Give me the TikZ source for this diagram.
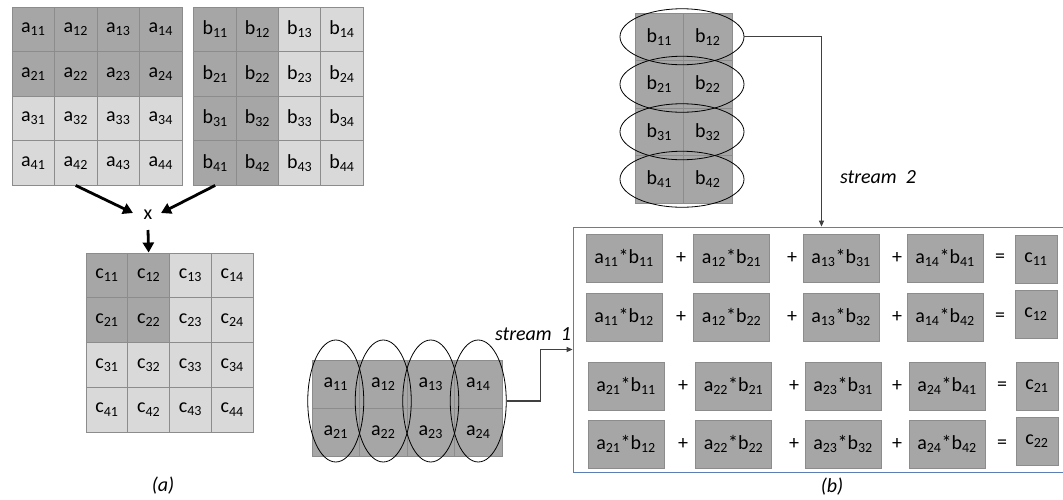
\documentclass[tikz,border=0pt]{standalone}
\usepackage{fontspec}
\setmainfont{Carlito}
\usetikzlibrary{arrows.meta,shapes.geometric}
\definecolor{dk}{HTML}{A6A6A6}
\definecolor{lt}{HTML}{D9D9D9}
\definecolor{cellb}{HTML}{8C8C8C}
\definecolor{boxb}{HTML}{5B7FB5}
\definecolor{arrc}{HTML}{404040}
\begin{document}
\begin{tikzpicture}[x=1pt,y=-1pt,font=\fontsize{20}{24}\selectfont,
  cellA/.style={draw=cellb,line width=0.9pt,minimum width=42.5pt,minimum height=44.5pt,inner sep=0pt},
  cellC/.style={draw=cellb,line width=0.9pt,minimum width=41.75pt,minimum height=44.75pt,inner sep=0pt},
  cellBB/.style={draw=cellb,line width=0.8pt,fill=dk,minimum width=48.5pt,minimum height=47.5pt,inner sep=0pt},
  cellAR/.style={draw=cellb,line width=0.8pt,fill=dk,minimum width=47.5pt,minimum height=48pt,inner sep=0pt},
  ell/.style={draw=black,line width=0.8pt,ellipse,inner sep=0pt},
  bigarr/.style={line width=2.8pt,-{Triangle[length=10pt,width=11pt]}},
  smarr/.style={draw=arrc,line width=1.1pt,-{Triangle[length=6pt,width=5pt]}},
  prod/.style={draw=cellb,line width=0.6pt,fill=dk,minimum width=76pt,minimum height=48pt,inner sep=0pt},
  cbox/.style={draw=cellb,line width=0.6pt,fill=dk,minimum width=42pt,minimum height=48pt,inner sep=0pt},
  lab/.style={font=\fontsize{20}{24}\selectfont\itshape}]
\useasboundingbox (0,0) rectangle (1063,499);
\fill[white] (0,0) rectangle (1063,499);
% ---------- (a) ----------
\foreach \r/\f in {1/dk,2/dk,3/lt,4/lt}
  \foreach \c in {1,...,4}
    \node[cellA,fill=\f] (A\r\c) at ({12+42.5*(\c-0.5)},{7+44.5*(\r-0.5)}) {a\textsubscript{\r\c}};
\foreach \c/\f in {1/dk,2/dk,3/lt,4/lt}
  \foreach \r in {1,...,4}
    \node[cellA,fill=\f] (B\r\c) at ({194+42.25*(\c-0.5)},{7+44.5*(\r-0.5)}) {b\textsubscript{\r\c}};
\foreach \r in {1,...,4}
  \foreach \c in {1,...,4}{
    \ifnum\r<3 \ifnum\c<3 \def\f{dk}\else\def\f{lt}\fi\else\def\f{lt}\fi
    \node[cellC,fill=\f] (C\r\c) at ({86+41.75*(\c-0.5)},{253+44.75*(\r-0.5)}) {c\textsubscript{\r\c}};
  }
\node[inner sep=0pt] (times) at (148,215) {x};
\draw[bigarr] (A42.south) -- ([xshift=-15pt,yshift=2pt]times.center);
\draw[bigarr] (B41.south) -- ([xshift=13pt,yshift=2pt]times.center);
\draw[bigarr] ([yshift=-15pt]times.center) -- (C12.north);
\node[lab] (laba) at (163,486) {(a)};
% ---------- (b) ----------
\foreach \r in {1,...,4}{
  \foreach \c in {1,2}
    \node[cellBB] (BB\r\c) at ({635+48.5*(\c-0.5)},{13+47.5*(\r-0.5)}) {b\textsubscript{\r\c}};
}
\foreach \r in {1,...,4}
  \node[ell,minimum width=124pt,minimum height=56pt] (EB\r) at (682,{13+47.5*(\r-0.5)}) {};
\foreach \r in {1,2}
  \foreach \c in {1,...,4}
    \node[cellAR] (AR\r\c) at ({312+47.5*(\c-0.5)},{360+48*(\r-0.5)}) {a\textsubscript{\r\c}};
\foreach \c in {1,...,4}
  \node[ell,minimum width=56pt,minimum height=122pt] (EA\c) at ({312+47.5*(\c-0.5)},401) {};
\node[draw=boxb,line width=0.8pt,minimum width=497pt,minimum height=245pt,inner sep=0pt] (bigbox) at (821.5,349.5) {};
\draw[smarr] (EA4.east) -- ++(34,0) |- (bigbox.west);
\draw[smarr] (EB1.east) -| (bigbox.north);
\node[lab] (s1) at (533,334) {stream\ \ 1};
\node[lab] (s2) at (878,177) {stream\ \ 2};
\foreach \r/\y/\cy/\dx/\i/\j in {1/258/259/0/1/1, 2/317/314/0/1/2, 3/386/386/2/2/1, 4/444/441/2/2/2}{
  \node[prod] (P\r1) at ({624+\dx},\y) {a\textsubscript{\i1}*b\textsubscript{1\j}};
  \node[prod] (P\r2) at ({731.5+\dx},\y) {a\textsubscript{\i2}*b\textsubscript{2\j}};
  \node[prod] (P\r3) at ({841+\dx},\y) {a\textsubscript{\i3}*b\textsubscript{3\j}};
  \node[prod] (P\r4) at ({945+\dx},\y) {a\textsubscript{\i4}*b\textsubscript{4\j}};
  \node[inner sep=0pt] (pl\r1) at ({681+\dx},\y) {+};
  \node[inner sep=0pt] (pl\r2) at ({792+\dx},\y) {+};
  \node[inner sep=0pt] (pl\r3) at ({897},\y) {+};
  \node[inner sep=0pt] (eq\r) at ({1000+\dx},\y) {=};
  \node[cbox] (CC\r) at ({1036+\dx/2},\cy) {c\textsubscript{\i\j}};
}
\node[lab] (labb) at (832,487) {(b)};
\end{tikzpicture}
\end{document}
